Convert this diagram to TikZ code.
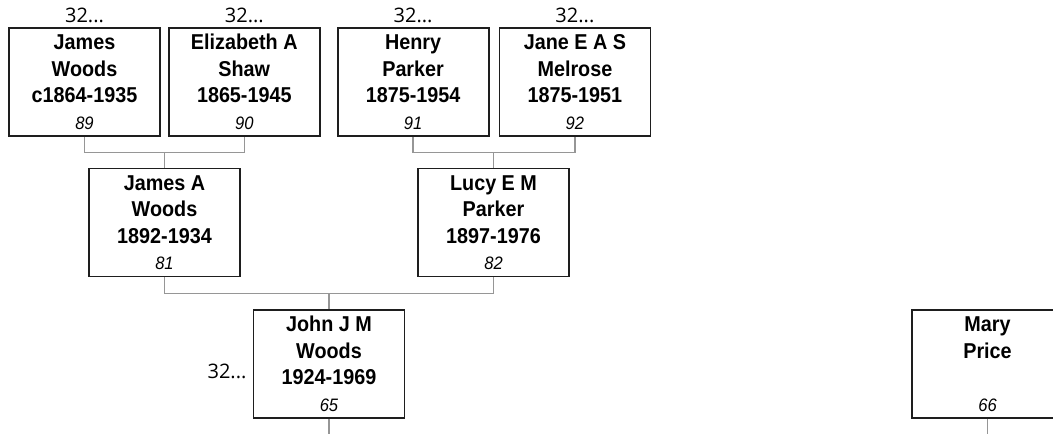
\documentclass[tikz,border=0pt]{standalone}
\usepackage{fontspec}
\setmainfont{Liberation Sans}
\newfontfamily\namefont[FakeStretch=0.92]{Liberation Sans}
\newfontfamily\morefont{Open Sans}
\usetikzlibrary{positioning}
\definecolor{boxline}{HTML}{1E1E1E}
\definecolor{linkgray}{HTML}{969696}
\tikzset{
    every picture/.style={line join=miter},
    person/.style={draw=boxline,fill=white,line width=1.8pt,
      minimum width=151pt,minimum height=108pt,inner sep=0pt,
      font=\namefont\bfseries\fontsize{21.5}{26.5}\selectfont,align=center},
    link/.style={draw=linkgray,line width=1.5pt},
    more/.style={inner sep=0pt,font=\morefont\fontsize{20}{22}\selectfont}
}
\newcommand{\refno}[1]{{\mdseries\itshape\fontsize{18}{26.5}\selectfont #1}}

\begin{document}
\begin{tikzpicture}[x=1pt,y=1pt,node distance=7pt]
  \useasboundingbox (0,0) rectangle (1053,434);
  % great-grandparents
  \node[person] (p89) at (84.5,352) {James\\Woods\\c1864-1935\\\refno{89}};
  \node[person,right=7pt of p89] (p90) {Elizabeth A\\Shaw\\1865-1945\\\refno{90}};
  \node[person,right=16pt of p90] (p91) {Henry\\Parker\\1875-1954\\\refno{91}};
  \node[person,right=9pt of p91] (p92) {Jane E A S\\Melrose\\1875-1951\\\refno{92}};
  \foreach \p in {89,90,91,92}
    \node[more,above=4pt of p\p] (m\p) {32...};
  % grandparents
  \node[person] (p81) at (164.5,211.5) {James A\\Woods\\1892-1934\\\refno{81}};
  \node[person] (p82) at (493.5,211.5) {Lucy E M\\Parker\\1897-1976\\\refno{82}};
  % parents
  \node[person] (p65) at (329,70) {John J M\\Woods\\1924-1969\\\refno{65}};
  \node[more,left=6pt of p65,yshift=-7pt] (m65) {32...};
  \node[person] (p66) at (987.5,70) {Mary\\Price\\\mbox{}\\\refno{66}};
  % couples down to child
  \draw[link] (p89.south) -- ++(0,-15.5) -| (p90.south);
  \draw[link] (p81.north) -- ++(0,15.5);
  \draw[link] (p91.south) -- ++(0,-15.5) -| (p92.south);
  \draw[link] (p82.north) -- ++(0,15.5);
  \draw[link] (p81.south) -- ++(0,-16) -| (p82.south);
  \draw[link] (p65.north) -- ++(0,16);
  \draw[link] (p65.south) -- ++(0,-16);
  \draw[link] (p66.south) -- ++(0,-16);
\end{tikzpicture}
\end{document}
